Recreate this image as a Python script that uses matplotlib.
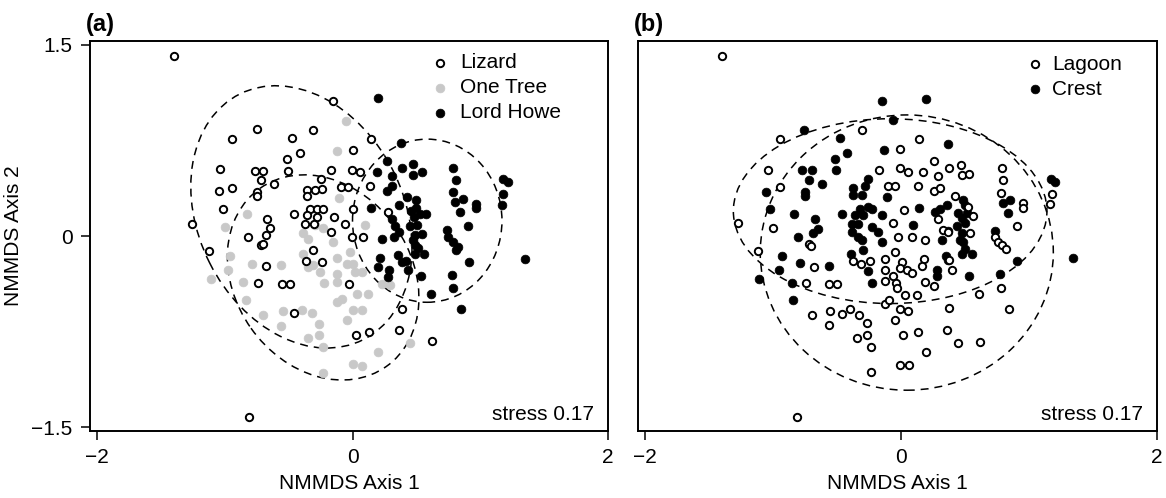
import matplotlib
matplotlib.use("Agg")
import matplotlib.pyplot as plt
from matplotlib.patches import Ellipse
import numpy as np

plt.rcParams['font.family'] = ['Liberation Sans', 'DejaVu Sans']

# ---------------- Panel (a): sites ----------------
lizard_x = [-1.395, -0.750, -0.943, -0.471, -0.307, -0.413, -0.510, -1.035, -0.763, -0.698,
            -0.503, -0.714, -0.612, -1.045, -0.941, -0.745, -0.745, -1.016, -0.667, -0.458,
            -0.372, -1.259, -0.646, -0.150, 0.145, 0.001, -0.168, -0.006, 0.059, -0.247,
            -0.241, -0.358, -0.358, -0.294, -0.090, -0.033, 0.137, -0.333, -0.281, -0.229,
            -0.358, -0.281, -0.143, -0.059, 0.007, 0.280, -0.816, -0.72, -0.70, -0.68,
            -1.121, -0.677, -0.366, -0.307, -0.737, -0.554, -0.489, -0.455, -0.808, -0.168,
            -0.006, 0.080, -0.236, -0.027, 0.385, 0.366, 0.027, 0.131, 0.625, -0.300]
lizard_y = [1.416, 0.836, 0.760, 0.768, 0.834, 0.653, 0.601, 0.523, 0.512, 0.512,
            0.512, 0.437, 0.411, 0.353, 0.374, 0.345, 0.311, 0.215, 0.136, 0.175,
            0.092, 0.097, 0.060, 1.058, 0.763, 0.677, 0.520, 0.520, 0.502, 0.450,
            0.371, 0.358, 0.310, 0.358, 0.384, 0.384, 0.392, 0.215, 0.215, 0.215,
            0.162, 0.149, 0.149, 0.097, 0.215, 0.188, -0.008, -0.070, -0.060, 0.005,
            -0.117, -0.238, -0.196, -0.112, -0.366, -0.373, -0.373, -0.603, -1.418, 0.031,
            -0.008, -0.008, -0.204, -0.373, -0.569, -0.734, -0.778, -0.752, -0.823, 0.097]

onetree_x = [-0.828, -0.998, -0.054, -0.125, -0.104, 0.098, -0.294, -0.229, -0.959, -1.108,
             -0.972, -0.784, -0.562, -0.855, -0.836, -0.698, -0.541, -0.562, -0.393, -0.320,
             -0.346, -0.385, -0.346, -0.385, -0.310, -0.150, -0.020, -0.254, -0.346, -0.119,
             -0.046, 0.007, 0.020, 0.072, -0.125, -0.223, -0.119, 0.033, 0.124, 0.229,
             0.294, -0.125, -0.085, 0.007, 0.072, -0.046, -0.260, -0.260, -0.234, 0.202,
             0.450, 0.007, 0.072, -0.229]
onetree_y = [0.172, 0.068, 0.901, 0.666, 0.301, 0.089, 0.084, 0.060, -0.156, -0.334,
             -0.269, -0.217, -0.230, -0.360, -0.504, -0.619, -0.588, -0.705, -0.577, -0.608,
             -0.804, 0.020, -0.020, -0.138, -0.230, -0.047, -0.125, -0.282, -0.243, -0.172,
             -0.216, -0.216, -0.282, -0.282, -0.295, -0.368, -0.360, -0.457, -0.457, -0.373,
             -0.386, -0.517, -0.498, -0.577, -0.582, -0.661, -0.687, -0.778, -0.870, -0.909,
             -0.838, -1.006, -1.019, -1.072]

lordhowe_x = [0.200, 0.377, 0.273, 0.476, 0.390, 0.189, 0.307, 0.476, 0.541, 0.307,
              0.268, 0.425, 0.497, 0.784, 0.807, 0.789, 0.802, 0.862, 0.967, 0.967,
              0.842, 1.181, 1.220, 1.181, 1.173, 0.145, 0.364, 0.460, 0.500, 0.530,
              0.575, 0.480, 0.307, 0.333, 0.450, 0.503, 0.737, 0.906, 0.229, 0.327,
              0.366, 0.541, 0.489, 0.476, 0.489, 0.515, 0.750, 0.789, 0.828, 0.810,
              0.915, 1.350, 0.359, 0.385, 0.419, 0.215, 0.202, 0.289, 0.281, 0.437,
              0.489, 0.560, 0.533, 0.781, 0.784, 0.614, 0.849]
lordhowe_y = [1.079, 0.729, 0.588, 0.562, 0.533, 0.502, 0.468, 0.476, 0.502, 0.392,
              0.353, 0.306, 0.280, 0.533, 0.442, 0.345, 0.266, 0.293, 0.254, 0.219,
              0.188, 0.450, 0.423, 0.332, 0.241, 0.222, 0.241, 0.200, 0.220, 0.170,
              0.170, 0.150, 0.136, 0.075, 0.080, 0.090, 0.045, 0.078, -0.020, -0.010,
              0.031, 0.019, 0.005, -0.034, -0.073, -0.091, -0.008, -0.047, -0.086, -0.112,
              -0.204, -0.177, -0.151, -0.204, -0.196, -0.169, -0.243, -0.263, -0.321, -0.269,
              -0.138, -0.138, -0.316, -0.303, -0.407, -0.452, -0.574]

# ---------------- Panel (b): habitats ----------------
lagoon_x = [-1.401, -0.945, -0.307, -0.008, -1.037, -0.945, -0.172, -0.008, -0.099, -0.047,
            -1.271, -0.998, -0.060, -1.120, -0.719, -0.700, -0.682, -0.373, -0.310, -0.246,
            -0.125, -0.047, -0.125, -0.060, -0.125, -0.040, -0.745, -0.563, -0.498, -0.125,
            -0.094, -0.698, -0.555, -0.464, -0.399, -0.326, -0.563, -0.263, -0.047, -0.346,
            -0.263, -0.237, -0.008, -0.237, -0.815,
            0.143, 0.260, 0.057, 0.174, 0.291, 0.378, 0.469, 0.474, 0.531, 0.130,
            0.260, 0.304, 0.786, 0.799, 0.781, 0.026, 0.956, 0.956, 1.177, 1.164,
            0.422, 0.526, 0.565, 0.291, 0.325, 0.365, 0.904, 0.539, -0.021, 0.083,
            0.190, 0.734, 0.760, 0.786, 0.820, 0.005, -0.008, 0.044, 0.083, 0.177,
            0.164, 0.372, 0.398, 0.190, 0.255, 0.031, 0.122, -0.034, -0.008, 0.057,
            0.378, 0.610, 0.781, 0.844, 0.018, 0.130, 0.357, 0.448, 0.617, 0.195, 0.063]
lagoon_y = [1.416, 0.763, 0.828, 0.685, 0.520, 0.384, 0.520, 0.530, 0.390, 0.390,
            0.102, 0.063, 0.102, -0.117, -0.065, -0.075, -0.243, -0.198, -0.220, -0.200,
            -0.177, -0.125, -0.270, -0.310, -0.350, -0.370, -0.368, -0.373, -0.373, -0.530,
            -0.500, -0.616, -0.590, -0.610, -0.570, -0.620, -0.702, -0.680, -0.660, -0.800,
            -0.780, -0.870, -1.010, -1.071, -1.418,
            0.760, 0.588, 0.500, 0.500, 0.468, 0.530, 0.560, 0.480, 0.490, 0.395,
            0.350, 0.380, 0.536, 0.437, 0.340, 0.207, 0.260, 0.220, 0.332, 0.254,
            0.310, 0.230, 0.160, 0.131, 0.050, 0.030, 0.080, 0.025, -0.010, -0.010,
            -0.030, -0.008, -0.047, -0.073, -0.099, -0.204, -0.255, -0.268, -0.287, -0.178,
            -0.238, -0.190, -0.268, -0.360, -0.395, -0.465, -0.465, -0.410, -0.570, -0.590,
            -0.564, -0.456, -0.405, -0.574, -0.780, -0.750, -0.740, -0.840, -0.830, -0.914, -1.010]

crest_x = [-0.151, -0.060, -0.755, -0.477, -0.419, -0.516, -0.130, -0.771, -0.698, -0.508,
           -0.716, -0.620, -0.748, -0.748, -1.055, -1.023, -0.833, -0.672, -0.464, -0.255,
           -0.281, -0.372, -0.372, -0.307, -0.112, -0.151, -0.320, -0.255, -0.229, -0.359,
           -0.294, -0.386, -0.333, -0.229, -0.386, -0.333, -0.307, -0.177, -0.151, -0.651,
           -0.685, -0.802, -0.932, -0.953, -1.110, -0.786, -0.563, -0.388, -0.294, -0.255,
           -0.229, -0.854, -0.846,
           0.193, 0.370, 0.141, 0.357, 0.266, 0.305, 0.487, 0.500, 0.448, 0.513,
           0.474, 0.500, 0.096, 0.370, 0.440, 0.474, 0.461, 0.318, 0.487, 0.500,
           0.552, 0.474, 0.349, 0.370, 0.284, 0.279, 0.529, 0.734, 0.799, 0.851,
           0.839, 0.909, 0.773, 1.172, 1.203, 1.341]
crest_y = [1.063, 0.907, 0.832, 0.769, 0.653, 0.602, 0.672, 0.520, 0.520, 0.515,
           0.437, 0.405, 0.346, 0.310, 0.346, 0.215, 0.175, 0.136, 0.175, 0.450,
           0.390, 0.380, 0.320, 0.320, 0.306, 0.162, 0.215, 0.228, 0.210, 0.162,
           0.162, 0.097, 0.097, 0.071, 0.032, -0.008, -0.034, 0.032, -0.047, 0.058,
           0.020, -0.008, -0.159, -0.264, -0.334, -0.210, -0.235, -0.138, -0.112, -0.277,
           -0.365, -0.365, -0.503,
           1.077, 0.724, 0.220, 0.246, 0.190, 0.215, 0.280, 0.240, 0.180, 0.180,
           0.140, 0.100, 0.090, 0.040, 0.080, 0.020, -0.030, -0.030, -0.047, -0.099,
           -0.138, -0.138, -0.160, -0.190, -0.264, -0.316, -0.316, 0.040, 0.260, 0.280,
           0.180, -0.200, -0.300, 0.450, 0.420, -0.172]

# Dispersion ellipses: (centre x, centre y, width, height, angle)
ellipses_a = [(-0.40, 0.15, 2.156, 1.608, -63.4),   # Lizard
              (-0.23, -0.325, 1.712, 1.382, -54.8),  # One Tree
              (0.585, 0.12, 1.17, 1.28, 0.0)]        # Lord Howe
ellipses_b = [(-0.085, 0.195, 2.45, 1.45, 0.0),      # Lagoon/Crest
              (0.045, -0.13, 2.29, 2.16, 0.0)]

legend_a = ["Lizard", "One Tree", "Lord Howe"]
legend_b = ["Lagoon", "Crest"]
stress_label = "stress 0.17"

GRAY = "#c8c8c8"
FS = 15

fig = plt.figure(figsize=(11.66, 4.98), dpi=100)
ax_a = fig.add_axes([90/1166, 67/498, 518/1166, 390/498])
ax_b = fig.add_axes([638/1166, 67/498, 519/1166, 390/498])

open_kw = dict(marker='o', linestyle='none', markersize=5.3, markerfacecolor='white',
               markeredgecolor='black', markeredgewidth=1.4)
black_kw = dict(marker='o', linestyle='none', markersize=6.3, markerfacecolor='black',
                markeredgecolor='black', markeredgewidth=0.5)
gray_kw = dict(marker='o', linestyle='none', markersize=6.3, markerfacecolor=GRAY,
               markeredgecolor=GRAY, markeredgewidth=0.5)

# panel a
ax_a.plot(onetree_x, onetree_y, **gray_kw)
ax_a.plot(lordhowe_x, lordhowe_y, **black_kw)
ax_a.plot(lizard_x, lizard_y, **open_kw)
# panel b
ax_b.plot(crest_x, crest_y, **black_kw)
ax_b.plot(lagoon_x, lagoon_y, **open_kw)

dash = (0, (5.2, 3.9))
for ax, ells in ((ax_a, ellipses_a), (ax_b, ellipses_b)):
    for cx, cy, w, h, ang in ells:
        ax.add_patch(Ellipse((cx, cy), w, h, angle=ang, fill=False, edgecolor='black',
                             linewidth=1.1, linestyle=dash))

for ax in (ax_a, ax_b):
    ax.set_xlim(-2.055, 2.0)
    ax.set_ylim(-1.53, 1.53)
    for sp in ax.spines.values():
        sp.set_linewidth(1.4)
    ax.set_xticks([-2, 0, 2])
    ax.set_xticklabels(["\u22122", "0", "2"])
    ax.tick_params(axis='both', direction='out', length=6.5, width=1.1, labelsize=FS, pad=6)
    ax.set_xlabel("NMMDS Axis 1", fontsize=FS, labelpad=5)
    ax.text(0.973, 0.028, stress_label, transform=ax.transAxes, ha='right', va='baseline',
            fontsize=FS)

ax_a.set_yticks([-1.5, 0, 1.5])
ax_a.set_yticklabels(["\u22121.5", "0", "1.5"])
ax_a.set_ylabel("NMMDS Axis 2", fontsize=FS, labelpad=6)
ax_b.set_yticks([])

# panel letters
fig.text(86/1166, 1 - 31/498, "(a)", fontsize=17, fontweight='bold', ha='left', va='baseline')
fig.text(634/1166, 1 - 31/498, "(b)", fontsize=17, fontweight='bold', ha='left', va='baseline')

# legends (drawn manually)
def legend(ax, entries, x_mark, x_text, y_rows):
    for (label, kw), y in zip(entries, y_rows):
        ax.plot([x_mark], [y], transform=ax.transAxes, clip_on=False, **kw)
        ax.text(x_text, y, label, transform=ax.transAxes, ha='left', va='center', fontsize=FS)

legend(ax_a, [(legend_a[0], open_kw), (legend_a[1], gray_kw), (legend_a[2], black_kw)],
       (440 - 90) / 518, (460 - 90) / 518,
       [(431 - 62.7) / 390, (431 - 87.7) / 390, (431 - 112.7) / 390])
legend(ax_b, [(legend_b[0], open_kw), (legend_b[1], black_kw)],
       (1035 - 638) / 519, (1052 - 638) / 519,
       [(431 - 64) / 390, (431 - 89.3) / 390])

fig.savefig("out.png", dpi=100)
